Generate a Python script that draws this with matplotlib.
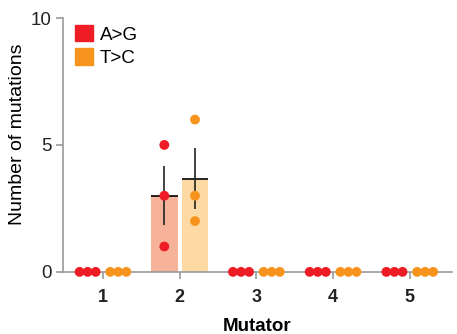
import numpy as np
import matplotlib
matplotlib.use("Agg")
from matplotlib import pyplot as plt
from matplotlib.patches import Patch

plt.rcParams['font.family'] = ['Liberation Sans', 'DejaVu Sans']

mutators = [1, 2, 3, 4, 5]
ag_counts = [[0, 0, 0], [5, 3, 1], [0, 0, 0], [0, 0, 0], [0, 0, 0]]
tc_counts = [[0, 0, 0], [6, 3, 2], [0, 0, 0], [0, 0, 0], [0, 0, 0]]

series = [
    ('A>G', ag_counts, '#ee1c25', '#f7b29a', -0.2),
    ('T>C', tc_counts, '#f7941d', '#fdd9a3', 0.2),
]

def swarm_x(center, values, step=0.105):
    # spread points that share the same value side by side
    xs = np.full(len(values), float(center))
    vals = np.asarray(values)
    for v in np.unique(vals):
        idx = np.where(vals == v)[0]
        n = len(idx)
        xs[idx] = center + (np.arange(n) - (n - 1) / 2) * step
    return xs

fig = plt.figure(figsize=(4.57, 3.34), dpi=100)
ax = fig.add_axes([0.138, 0.186, 0.851, 0.76])

width = 0.35
for name, counts, dot_c, bar_c, off in series:
    for m, vals in zip(mutators, counts):
        vals = np.asarray(vals, dtype=float)
        mean = vals.mean()
        sem = vals.std(ddof=1) / np.sqrt(len(vals))
        x = m + off
        if mean > 0:
            ax.bar(x, mean, width=width, color=bar_c, zorder=1)
            ax.hlines(mean, x - width / 2, x + width / 2, color='black', lw=1.2, zorder=2)
            ax.vlines(x, mean - sem, mean + sem, color='#222222', lw=1.2, zorder=3)
        ax.scatter(swarm_x(x, vals), vals, s=50, color=dot_c, edgecolor='none',
                   zorder=4, clip_on=False)

ax.set_xlim(0.48, 5.55)
ax.set_ylim(0, 10)
ax.set_xticks(mutators)
ax.set_xticklabels([str(m) for m in mutators], fontweight='bold', fontsize=13)
ax.set_yticks([0, 5, 10])
ax.set_yticklabels(['0', '5', '10'], fontsize=13.5)
ax.set_xlabel('Mutator', fontweight='bold', fontsize=13.5, labelpad=9)
ax.set_ylabel('Number of mutations', fontsize=14)
ax.yaxis.set_label_coords(-0.095, 0.541)

for s in ['top', 'right']:
    ax.spines[s].set_visible(False)
for s in ['left', 'bottom']:
    ax.spines[s].set_color('#999999')
    ax.spines[s].set_linewidth(1.2)
ax.tick_params(axis='both', colors='#999999', labelcolor='#222222', length=5, width=1.2)
ax.tick_params(axis='x', pad=7)

handles = [Patch(color=c, label=n) for n, _, c, _, _ in series]
ax.legend(handles=handles, loc='upper left', bbox_to_anchor=(0.0, 1.02), frameon=False,
          fontsize=13.5, handlelength=0.96, handleheight=0.96, handletextpad=0.35,
          labelspacing=0.25, borderaxespad=0.35, borderpad=0.3)

fig.savefig('out.png', dpi=100)
